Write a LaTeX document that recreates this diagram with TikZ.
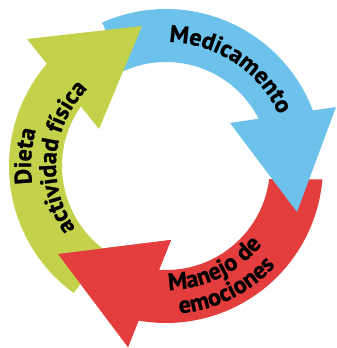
\documentclass[tikz,border=0pt]{standalone}
\usepackage{fontspec}
\setmainfont{PT Sans}[BoldFeatures={FakeBold=1}]
\usetikzlibrary{decorations.text}

\definecolor{medblue}{RGB}{108,194,234}
\definecolor{emored}{RGB}{228,61,62}
\definecolor{dietgreen}{RGB}{196,209,74}

\newcommand\lbl{\fontsize{20.5}{20.5}\selectfont\bfseries}

\begin{document}
\begin{tikzpicture}[
  x=0.03cm, y=0.03cm,
  arclabel/.style={decorate,
    decoration={text along path, text align=center, text={|\lbl|#1}}}
]
  \useasboundingbox (-166,-182) rectangle (170,166);

  % arrow heads: outer base, tip, inner base
  \coordinate (Bo) at (170,59);   \coordinate (Bt) at (131,-46);  \coordinate (Bi) at (64,43);
  \coordinate (Ro) at (-38,-181); \coordinate (Rt) at (-108,-88); \coordinate (Ri) at (5,-74);
  \coordinate (Go) at (-139,127); \coordinate (Gt) at (-24,140);  \coordinate (Gi) at (-67,37);

  % red: emociones
  \fill[emored] (-7.2:105) -- (-4.9:157) arc[start angle=-4.9, end angle=-100.05, radius=157]
    -- (Ro) -- (Rt) -- (Ri) -- (-93.86:104) arc[start angle=-93.86, end angle=-7.2, radius=104] -- cycle;

  % blue: medicamento
  \fill[medblue] (114:104) -- (114:157) arc[start angle=114, end angle=20.7, radius=157]
    -- (Bo) -- (Bt) -- (Bi) -- (27.05:104) arc[start angle=27.05, end angle=114, radius=104] -- cycle;

  % green: dieta
  \fill[dietgreen] (234:104) -- (234:157) arc[start angle=234, end angle=139.4, radius=157]
    -- (Go) -- (Gt) -- (Gi) -- (145:104) arc[start angle=145, end angle=234, radius=104] -- cycle;

  % red head again, over the green tail
  \fill[emored] (Ro) -- (Rt) -- (Ri) -- cycle;

  % labels
  \path[arclabel=Medicamento] (106.5:124) arc[start angle=106.5, end angle=6.5, radius=124];
  \path[arclabel=Dieta] (216:135) arc[start angle=216, end angle=136, radius=135];
  \path[arclabel=actividad física] (215:110) arc[start angle=215, end angle=135, radius=110];
  \path[arclabel=Manejo de] (-114:124) arc[start angle=-114, end angle=-14, radius=124];
  \path[arclabel=emociones] (-113.5:148) arc[start angle=-113.5, end angle=-13.5, radius=148];
\end{tikzpicture}
\end{document}
